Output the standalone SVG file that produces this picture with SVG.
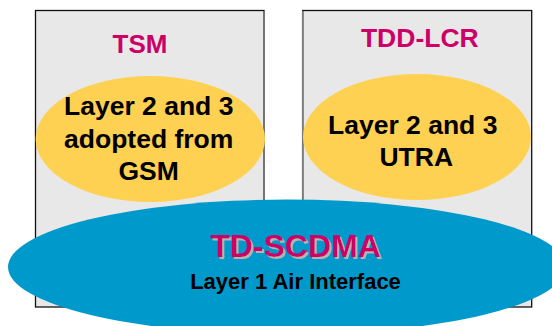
<svg xmlns="http://www.w3.org/2000/svg" width="552" height="326" viewBox="0 0 552 326">
  <defs>
    <!-- soft grey drop shadow behind the TD-SCDMA heading -->
    <filter id="text-shadow" x="-5%" y="-20%" width="115%" height="150%">
      <feFlood flood-color="#B4B4B4" result="tint"/>
      <feComposite in="tint" in2="SourceAlpha" operator="in" result="shape"/>
      <feOffset in="shape" dx="2" dy="1.7" result="offset"/>
      <feMerge>
        <feMergeNode in="offset"/>
        <feMergeNode in="SourceGraphic"/>
      </feMerge>
    </filter>
  </defs>
  <style>
    .panel { fill: #E8E8E8; stroke: #111111; stroke-width: 1.3; }
    .inner-edge { stroke: #7A7A7A; stroke-width: 1.6; }
    .protocol { fill: #FFD152; }
    .air { fill: #0099CC; }
    .title { font-family: "Liberation Sans", Arial, sans-serif; font-weight: bold; fill: #CC0066; text-anchor: middle; }
    .label { font-family: "Liberation Sans", Arial, sans-serif; font-weight: bold; fill: #000000; text-anchor: middle; }
  </style>

  <!-- TSM stack -->
  <g id="tsm">
    <rect class="panel" x="35.5" y="10.5" width="228.5" height="296.5"/>
    <line class="inner-edge" x1="264" y1="11" x2="264" y2="307"/>
    <text class="title" x="140" y="53" font-size="26">TSM</text>
    <g id="tsm-layers">
      <ellipse class="protocol" cx="150.3" cy="139" rx="114.7" ry="63"/>
      <text class="label" x="148.7" y="114.5" font-size="26.5">Layer 2 and 3</text>
      <text class="label" x="148.7" y="147.5" font-size="26.5">adopted from</text>
      <text class="label" x="148.7" y="179.5" font-size="26.5">GSM</text>
    </g>
  </g>

  <!-- TDD-LCR stack -->
  <g id="tdd-lcr">
    <rect class="panel" x="302.7" y="10.5" width="229" height="296.5"/>
    <line class="inner-edge" x1="302.7" y1="11" x2="302.7" y2="307"/>
    <text class="title" x="419.8" y="46.5" font-size="26.5">TDD-LCR</text>
    <g id="tdd-lcr-layers">
      <ellipse class="protocol" cx="417" cy="137" rx="114" ry="63"/>
      <text class="label" x="412.7" y="134.3" font-size="26.5">Layer 2 and 3</text>
      <text class="label" x="416.3" y="166" font-size="26.5">UTRA</text>
    </g>
  </g>

  <!-- shared physical layer -->
  <g id="td-scdma">
    <ellipse class="air" cx="287" cy="267" rx="279" ry="67.5"/>
    <text class="title" x="295.5" y="257.3" font-size="32" filter="url(#text-shadow)">TD-SCDMA</text>
    <text class="label" x="295.5" y="289" font-size="22">Layer 1 Air Interface</text>
  </g>

  <g id="connectors"/>
</svg>
